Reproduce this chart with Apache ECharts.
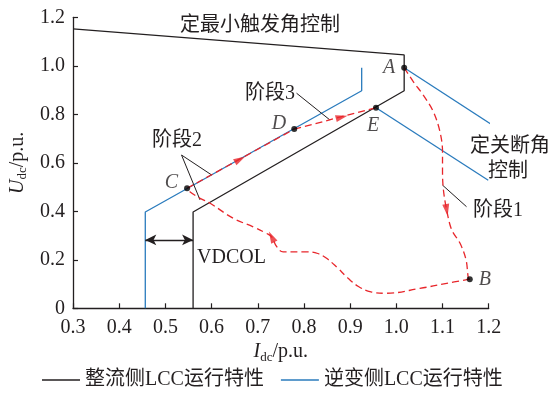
<!DOCTYPE html>
<html>
<head>
<meta charset="utf-8">
<script src="https://cdn.jsdelivr.net/npm/echarts@6/dist/echarts.min.js"></script>
<style>
  html, body { margin: 0; padding: 0; background: #fff; }
  #chart { width: 553px; height: 393px; }
</style>
</head>
<body>
<div id="chart"></div>
<script>
// Rectifier-side LCC characteristic (black)
const rectX = [0.56, 0.56, 1.017, 1.017, 0.3];
const rectY = [0, 0.397, 0.897, 1.045, 1.152];

// Inverter-side LCC characteristic (blue)
const invX = [0.4565, 0.4565, 0.925, 0.925];
const invY = [0, 0.397, 0.897, 0.992];

// Constant extinction angle control lines through A and E
const gammaAX = [1.017, 1.219];
const gammaAY = [0.992, 0.742];
const gammaEX = [0.956, 1.199];
const gammaEY = [0.827, 0.528];

// Operating points
const ptNames = ['A', 'B', 'C', 'D', 'E'];
const ptX = [1.017, 1.159, 0.547, 0.779, 0.956];
const ptY = [0.992, 0.120, 0.495, 0.739, 0.827];

// Trajectory, stage 1: A -> B
const stage1X = [1.017, 1.037, 1.058, 1.080, 1.0945, 1.100, 1.100, 1.102, 1.109, 1.120, 1.138, 1.151, 1.156, 1.159];
const stage1Y = [0.992, 0.934, 0.880, 0.811, 0.728, 0.646, 0.563, 0.488, 0.405, 0.323, 0.268, 0.199, 0.124, 0.120];

// Trajectory, stage 2: B -> C (recovery curve) then C -> D along the inverter line
const stage2X = [1.159, 1.109, 1.051, 0.979, 0.945, 0.918, 0.895, 0.872, 0.849, 0.830, 0.806, 0.755, 0.741, 0.730, 0.719, 0.690, 0.647, 0.597, 0.575, 0.553, 0.547];
const stage2Y = [0.120, 0.103, 0.082, 0.062, 0.068, 0.090, 0.125, 0.168, 0.206, 0.226, 0.233, 0.233, 0.254, 0.295, 0.309, 0.336, 0.371, 0.433, 0.454, 0.481, 0.495];
const stage2LineX = [0.547, 0.779];
const stage2LineY = [0.495, 0.739];

// Trajectory, stage 3: D -> E
const stage3X = [0.779, 0.956];
const stage3Y = [0.739, 0.827];

// Direction arrows on the trajectory
const arrowX = [1.109, 0.730, 0.6616, 0.8817];
const arrowY = [0.405, 0.295, 0.614, 0.788];

// Leader lines for the stage labels
const lead2aX = [0.535, 0.600], lead2aY = [0.632, 0.550];
const lead2bX = [0.535, 0.575], lead2bY = [0.632, 0.447];
const lead3X = [0.784, 0.856], lead3Y = [0.887, 0.777];
const lead1X = [1.100, 1.152], lead1Y = [0.508, 0.419];

// VDCOL current-margin span
const vdcolX = [0.4565, 0.56];
const vdcolY = 0.282;

const legendNames = ['整流侧LCC运行特性', '逆变侧LCC运行特性'];

const BLACK = '#231f20';
const BLUE = '#2a7bbd';
const RED = '#e8262b';
const SERIF = '"Liberation Serif", "Times New Roman", "Noto Sans CJK SC", serif';

const zip = (xs, ys) => xs.map((x, i) => [x, ys[i]]);

function lineSeries(name, xs, ys, color, extra) {
  return Object.assign({
    name: name,
    type: 'line',
    data: zip(xs, ys),
    symbol: 'none',
    clip: false,
    silent: true,
    lineStyle: { color: color, width: 1.3 },
    itemStyle: { color: color },
    z: 2
  }, extra || {});
}

const dashed = { color: RED, width: 1.3, type: [7, 4] };

const option = {
  animation: false,
  backgroundColor: '#fff',
  grid: { left: 73, right: 64.3, top: 17.3, bottom: 84.7, outerBoundsMode: 'none' },
  legend: {
    data: legendNames,
    left: 37,
    top: 365,
    icon: 'rect',
    itemWidth: 38,
    itemHeight: 1.4,
    itemGap: 17,
    textStyle: { fontFamily: SERIF, fontSize: 20, color: BLACK }
  },
  xAxis: {
    type: 'value',
    min: 0.3, max: 1.2, interval: 0.1,
    name: '{i|I}{s|dc}{n|/p.u.}',
    nameLocation: 'middle',
    nameGap: 29,
    nameTextStyle: {
      rich: {
        i: { fontFamily: SERIF, fontStyle: 'italic', fontSize: 20, color: BLACK },
        s: { fontFamily: SERIF, fontSize: 13, color: BLACK, padding: [10, 0, 0, 0] },
        n: { fontFamily: SERIF, fontSize: 20, color: BLACK }
      }
    },
    axisLine: { lineStyle: { color: BLACK, width: 1.3 } },
    axisTick: { inside: true, length: 5, lineStyle: { color: BLACK, width: 1.2 } },
    axisLabel: {
      margin: 9, fontFamily: SERIF, fontSize: 20, color: BLACK,
      formatter: v => v.toFixed(1)
    },
    splitLine: { show: false }
  },
  yAxis: {
    type: 'value',
    min: 0, max: 1.2, interval: 0.2,
    name: '{i|U}{s|dc}{n|/p.u.}',
    nameLocation: 'middle',
    nameGap: 42,
    nameRotate: 90,
    nameTextStyle: {
      rich: {
        i: { fontFamily: SERIF, fontStyle: 'italic', fontSize: 20, color: BLACK },
        s: { fontFamily: SERIF, fontSize: 13, color: BLACK, padding: [10, 0, 0, 0] },
        n: { fontFamily: SERIF, fontSize: 20, color: BLACK }
      }
    },
    axisLine: { show: true, lineStyle: { color: BLACK, width: 1.3 } },
    axisTick: { show: true, inside: true, length: 5, lineStyle: { color: BLACK, width: 1.2 } },
    axisLabel: {
      margin: 8, fontFamily: SERIF, fontSize: 20, color: BLACK,
      formatter: v => (v === 0 ? '0' : v.toFixed(1))
    },
    splitLine: { show: false }
  },
  series: [
    lineSeries(legendNames[0], rectX, rectY, BLACK),
    lineSeries(legendNames[1], invX, invY, BLUE),
    lineSeries('gammaA', gammaAX, gammaAY, BLUE),
    lineSeries('gammaE', gammaEX, gammaEY, BLUE),
    lineSeries('stage1', stage1X, stage1Y, RED, { smooth: 0.35, lineStyle: dashed, z: 3 }),
    lineSeries('stage2', stage2X, stage2Y, RED, { smooth: 0.4, lineStyle: dashed, z: 3 }),
    lineSeries('stage2line', stage2LineX, stage2LineY, RED, { lineStyle: dashed, z: 3 }),
    lineSeries('stage3', stage3X, stage3Y, RED, { lineStyle: dashed, z: 3 }),
    lineSeries('lead2a', lead2aX, lead2aY, BLACK, { lineStyle: { color: BLACK, width: 1 } }),
    lineSeries('lead2b', lead2bX, lead2bY, BLACK, { lineStyle: { color: BLACK, width: 1 } }),
    lineSeries('lead3', lead3X, lead3Y, BLACK, { lineStyle: { color: BLACK, width: 1 } }),
    lineSeries('lead1', lead1X, lead1Y, BLACK, { lineStyle: { color: BLACK, width: 1 } }),
    {
      name: 'vdcol',
      type: 'line',
      data: [],
      silent: true,
      markLine: {
        silent: true,
        symbol: ['arrow', 'arrow'],
        symbolSize: [8, 11],
        label: { show: false },
        lineStyle: { color: BLACK, width: 1.3, type: 'solid' },
        data: [[{ coord: [vdcolX[0], vdcolY] }, { coord: [vdcolX[1], vdcolY] }]]
      }
    },
    {
      id: 'arrows',
      name: 'arrows',
      type: 'scatter',
      symbol: 'triangle',
      symbolSize: [7, 12],
      silent: true,
      itemStyle: { color: RED },
      data: zip(arrowX, arrowY),
      z: 4
    },
    {
      name: 'points',
      type: 'scatter',
      symbolSize: 6,
      silent: true,
      itemStyle: { color: '#000' },
      data: ptNames.map((n, i) => ({
        value: [ptX[i], ptY[i]],
        name: n,
        label: {
          show: true,
          formatter: n,
          fontFamily: SERIF,
          fontStyle: 'italic',
          fontSize: 20,
          color: BLACK,
          position: ({ A: 'left', B: 'right', C: 'left', D: 'left', E: 'bottom' })[n],
          offset: ({ A: [2, 0], B: [0, 1], C: [0, -6], D: [0, -5], E: [-3, -1] })[n],
          distance: ({ A: 8, B: 6, C: 6, D: 5, E: 6 })[n]
        }
      })),
      z: 5
    }
  ],
  graphic: [
    { type: 'text', x: 180, y: 23, style: { text: '定最小触发角控制', font: '20px "Noto Sans CJK SC"', fill: BLACK, verticalAlign: 'middle' } },
    { type: 'text', x: 245, y: 94, style: { text: '阶段3', font: '20px "Liberation Serif", "Noto Sans CJK SC"', fill: BLACK, verticalAlign: 'middle' } },
    { type: 'text', x: 152, y: 141, style: { text: '阶段2', font: '20px "Liberation Serif", "Noto Sans CJK SC"', fill: BLACK, verticalAlign: 'middle' } },
    { type: 'text', x: 470, y: 144, style: { text: '定关断角', font: '20px "Noto Sans CJK SC"', fill: BLACK, verticalAlign: 'middle' } },
    { type: 'text', x: 488, y: 169, style: { text: '控制', font: '20px "Noto Sans CJK SC"', fill: BLACK, verticalAlign: 'middle' } },
    { type: 'text', x: 473, y: 211, style: { text: '阶段1', font: '20px "Liberation Serif", "Noto Sans CJK SC"', fill: BLACK, verticalAlign: 'middle' } },
    { type: 'text', x: 197, y: 258, style: { text: 'VDCOL', font: '20px "Liberation Serif"', fill: BLACK, verticalAlign: 'middle' } }
  ]
};

const chart = echarts.init(document.getElementById('chart'), null, { renderer: 'canvas' });
chart.setOption(option);

// Orient each arrow along the trajectory segment it sits on
const paths = [[stage1X, stage1Y], [stage2X, stage2Y], [stage2LineX, stage2LineY], [stage3X, stage3Y]];
const toPx = (x, y) => chart.convertToPixel({ gridIndex: 0 }, [x, y]);
const rotations = arrowX.map((ax, k) => {
  const p = toPx(ax, arrowY[k]);
  let best = null, bestD = Infinity;
  paths.forEach(([xs, ys]) => {
    for (let i = 0; i < xs.length - 1; i++) {
      const a = toPx(xs[i], ys[i]), b = toPx(xs[i + 1], ys[i + 1]);
      const dx = b[0] - a[0], dy = b[1] - a[1];
      const len2 = dx * dx + dy * dy || 1;
      let t = ((p[0] - a[0]) * dx + (p[1] - a[1]) * dy) / len2;
      t = Math.max(0, Math.min(1, t));
      const qx = a[0] + t * dx - p[0], qy = a[1] + t * dy - p[1];
      const d = qx * qx + qy * qy;
      if (d < bestD) { bestD = d; best = [dx, dy]; }
    }
  });
  return Math.atan2(-best[1], best[0]) * 180 / Math.PI - 90;
});
chart.setOption({
  series: [{
    id: 'arrows',
    data: arrowX.map((x, i) => ({ value: [x, arrowY[i]], symbolRotate: rotations[i] }))
  }]
});
</script>
</body>
</html>
